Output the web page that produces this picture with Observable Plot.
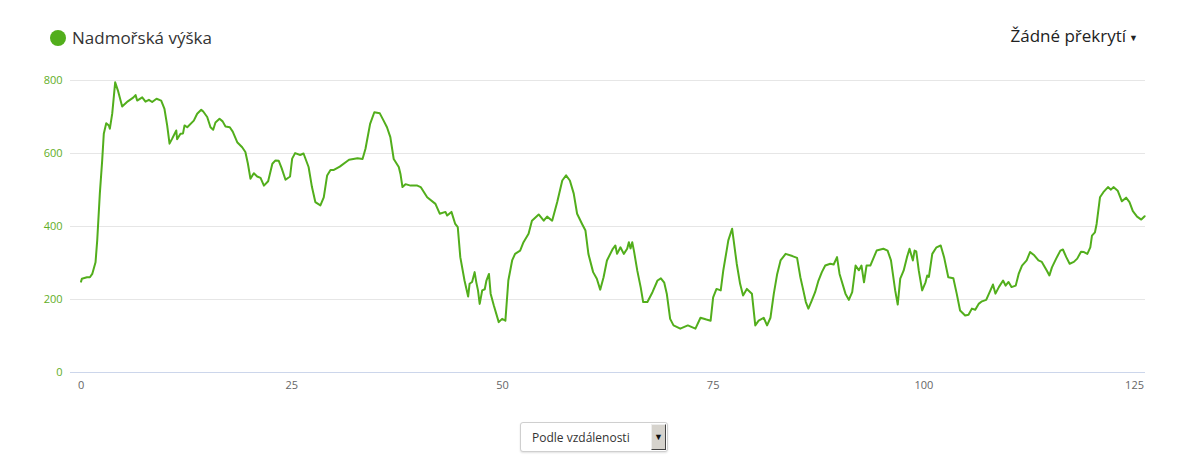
<!DOCTYPE html>
<html>
<head>
<meta charset="utf-8">
<script src="https://cdn.jsdelivr.net/npm/d3@7"></script>
<script src="https://cdn.jsdelivr.net/npm/@observablehq/plot@0.6"></script>
<style>
  html, body { margin: 0; padding: 0; background: #fff; }
  body { font-family: "Open Sans", sans-serif; }
  #wrap { position: relative; width: 1204px; height: 463px; overflow: hidden; }
  #legend { position: absolute; left: 50px; top: 26px; font-size: 17px; color: #333; display: flex; align-items: center; white-space: nowrap; }
  #legend .dot { width: 16px; height: 16px; border-radius: 50%; background: #52ae1c; margin-right: 6px; }
  #overlay { position: absolute; right: 66px; top: 24px; font-size: 17px; color: #222; white-space: nowrap; }
  #overlay .arr { font-size: 9px; margin-left: 3px; vertical-align: middle; }
  #chart { position: absolute; left: 0; top: 60px; }
  #select { position: absolute; left: 520px; top: 422px; width: 146px; height: 28px; border: 1px solid #cfcfcf; border-radius: 3px; box-shadow: 0 1px 2px rgba(0,0,0,0.12); background: #fff; }
  #select .txt { position: absolute; left: 11px; top: 6px; font-size: 12px; color: #333; white-space: nowrap; }
  #select .btn { position: absolute; right: 1px; top: 1px; width: 13px; height: 24px; background: #d6d3cd; border: 1px solid #444; border-top-color: #eee; border-left-color: #eee; font-size: 9px; text-align: center; line-height: 24px; color: #111; }
</style>
</head>
<body>
<div id="wrap">
  <div id="legend"><span class="dot"></span><span>Nadmořská výška</span></div>
  <div id="overlay">Žádné překrytí<span class="arr">▼</span></div>
  <div id="chart"></div>
  <div id="select"><span class="txt">Podle vzdálenosti</span><span class="btn">▼</span></div>
</div>
<script>
const distanceKm = [
  0,0.1,0.7,1.05,1.33,1.72,1.92,2.23,2.51,2.7,2.99,3.3,3.42,3.7,4.05,4.37,4.88,5.55,6.19,6.47,
  6.66,7.26,7.65,8.05,8.44,8.96,9.51,9.9,10.22,10.5,10.8,11.3,11.4,11.8,12.1,12.28,12.6,13.38,13.78,14.26,
  14.5,14.97,15.36,15.68,15.95,16.43,16.8,17.14,17.65,18.0,18.53,19.12,19.5,19.8,20.1,20.5,20.9,21.3,21.7,22.2,
  22.7,23.07,23.46,23.8,24.26,24.8,25.05,25.4,26.0,26.4,27.0,27.4,27.8,28.4,28.8,29.2,29.6,30.0,30.7,31.8,
  32.8,33.4,33.75,34.3,34.8,35.45,35.9,36.3,36.7,37.1,37.7,37.9,38.14,38.5,39.1,39.9,40.3,41.07,42.05,42.56,
  43.24,43.44,43.95,44.4,44.7,45.0,45.5,45.93,46.1,46.4,46.7,46.9,47.1,47.3,47.6,47.9,48.1,48.4,48.6,48.97,
  49.56,49.96,50.35,50.7,51.15,51.5,52.1,52.5,53.1,53.5,54.3,54.9,55.3,55.9,56.5,57.1,57.55,58.0,58.46,58.86,
  59.45,59.85,60.2,60.76,61.2,61.6,62.0,62.4,63.1,63.4,63.6,64.0,64.4,64.8,65.0,65.2,65.4,65.6,66.0,66.4,
  66.7,67.2,67.8,68.4,68.8,69.2,69.5,69.9,70.3,71.1,72.0,72.9,73.5,74.2,74.7,75.0,75.4,75.9,76.2,76.6,
  76.8,77.25,77.4,77.8,78.2,78.55,79.0,79.6,80.0,80.4,81.0,81.4,81.8,82.2,82.6,83.0,83.6,84.4,84.96,85.35,
  85.7,86.0,86.3,86.7,87.1,87.5,87.9,88.3,88.9,89.3,89.7,90.0,90.7,91.1,91.5,91.9,92.3,92.6,92.9,93.2,
  93.65,94.4,95.2,95.7,96.1,96.6,96.9,97.2,97.6,98.0,98.3,98.7,98.9,99.1,99.4,99.8,100.2,100.4,100.6,101.0,
  101.5,102.0,102.4,102.9,103.5,103.9,104.3,104.9,105.3,105.7,106.1,106.5,106.9,107.4,107.9,108.2,108.5,108.9,109.4,109.7,
  110.05,110.4,110.9,111.25,111.65,112.2,112.6,113.1,113.6,114.0,114.6,114.9,115.2,115.7,116.2,116.5,116.9,117.3,117.8,118.2,
  118.65,119.0,119.4,119.75,119.95,120.3,120.5,120.9,121.3,121.85,122.2,122.5,123.0,123.5,124.0,124.4,124.8,125.3,125.8,126.2
];
const elevationM = [
  249,257,261,261,270,302,362,490,581,654,683,677,668,709,795,773,729,743,753,760,
  745,754,742,747,741,750,745,722,677,627,640,663,639,654,655,677,672,690,709,720,
  715,700,672,665,685,695,688,674,672,660,631,617,604,572,531,546,537,533,512,524,
  572,581,580,560,528,537,586,601,596,600,563,508,467,458,480,540,555,555,564,583,
  587,585,613,681,713,710,690,672,645,585,563,544,508,516,512,512,508,480,462,435,
  440,430,440,407,398,316,252,208,243,248,275,247,225,188,225,228,252,270,216,184,
  138,147,142,252,307,325,334,357,380,416,433,416,427,416,467,526,540,526,490,435,
  407,389,325,275,257,227,261,307,339,348,325,343,325,339,357,340,357,334,279,234,
  193,193,220,252,258,246,216,147,129,120,129,120,150,145,142,206,229,225,279,334,
  362,394,368,298,243,211,229,216,129,142,150,129,150,216,270,307,325,319,314,261,
  225,193,175,197,220,252,275,293,298,296,316,270,216,199,220,293,280,293,247,293,
  293,334,339,334,307,225,186,257,279,316,339,307,334,332,279,225,247,266,262,325,
  343,348,316,261,258,216,170,156,158,175,172,188,195,199,225,241,216,234,252,238,
  248,234,238,270,293,307,330,321,307,303,279,266,288,312,334,337,316,298,303,312,
  331,330,325,343,375,384,407,480,494,508,501,508,498,469,479,467,442,427,419,428
];
const xTicks = [0, 25, 50, 75, 100, 125];
const yTicks = [0, 200, 400, 600, 800];

const data = distanceKm.map((d, i) => ({km: d, elev: elevationM[i]}));

const chart = Plot.plot({
  width: 1204,
  height: 340,
  marginLeft: 70,
  marginRight: 59,
  marginTop: 20,
  marginBottom: 28,
  style: {fontFamily: "'Open Sans', sans-serif", fontSize: "11px", background: "transparent"},
  x: {domain: [-1.25, 126.3]},
  y: {domain: [0, 800]},
  marks: [
    Plot.gridY(yTicks, {stroke: "#e6e6e6", strokeOpacity: 1}),
    Plot.ruleY([0], {stroke: "#ccd6eb", strokeWidth: 1}),
    Plot.axisX(xTicks, {tickSize: 0, tickPadding: 9, fill: "#666", label: null}),
    Plot.axisY(yTicks, {tickSize: 0, tickPadding: 8, fill: "#5fae26", label: null}),
    Plot.line(data, {x: "km", y: "elev", stroke: "#52ae1c", strokeWidth: 2, strokeLinejoin: "round"})
  ]
});
document.getElementById("chart").appendChild(chart);
</script>
</body>
</html>
